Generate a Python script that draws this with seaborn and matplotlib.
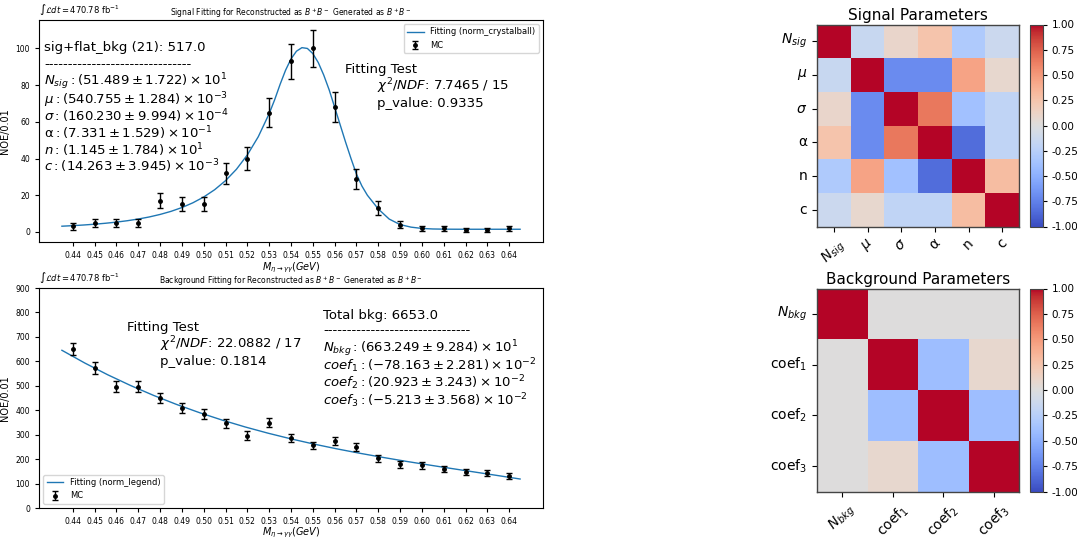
import numpy as np
import pandas as pd
import matplotlib
matplotlib.use("Agg")
import matplotlib.pyplot as plt
import seaborn as sns

# ---------------- data ----------------
mass_bins = [0.44, 0.45, 0.46, 0.47, 0.48, 0.49, 0.50, 0.51, 0.52, 0.53, 0.54,
             0.55, 0.56, 0.57, 0.58, 0.59, 0.60, 0.61, 0.62, 0.63, 0.64]
sig_counts = [3, 5, 5, 5, 17, 15, 15, 32, 40, 65, 93, 100, 68, 29, 13, 4, 2, 2, 1, 1, 2]
bkg_counts = [650, 572, 497, 496, 450, 410, 385, 347, 296, 349, 287, 256, 275, 251,
              204, 178, 174, 161, 146, 142, 132]

sig_fit_x = [0.435, 0.440, 0.445, 0.450, 0.455, 0.460, 0.465, 0.470, 0.475, 0.480,
             0.485, 0.490, 0.495, 0.500, 0.505, 0.510, 0.515, 0.520, 0.525, 0.530,
             0.5325, 0.535, 0.5375, 0.540, 0.5425, 0.545, 0.5475, 0.550, 0.5525,
             0.555, 0.5575, 0.560, 0.5625, 0.565, 0.5675, 0.570, 0.5725, 0.575,
             0.580, 0.585, 0.590, 0.595, 0.600, 0.605, 0.610, 0.615, 0.620, 0.625,
             0.630, 0.635, 0.640, 0.645]
sig_fit_y = [3.11, 3.41, 3.77, 4.20, 4.72, 5.34, 6.10, 7.02, 8.14, 9.52,
             11.20, 13.28, 15.85, 19.03, 22.99, 27.94, 34.15, 41.98, 51.88, 64.47,
             72.0, 80.41, 88.1, 94.27, 98.5, 100.43, 100.0, 97.21, 92.3,
             85.5, 77.4, 68.0, 58.5, 49.0, 40.0, 31.5, 25.0, 20.0,
             12.5, 7.0, 4.0, 2.6, 1.9, 1.6, 1.5, 1.46, 1.45, 1.45,
             1.45, 1.45, 1.45, 1.45]

bkg_fit_x = [0.435, 0.4455, 0.456, 0.4665, 0.477, 0.4875, 0.498, 0.5085, 0.519, 0.5295,
             0.540, 0.5505, 0.561, 0.5715, 0.582, 0.5925, 0.603, 0.6135, 0.624, 0.6345, 0.645]
bkg_fit_y = [645.2, 593.0, 545.0, 501.0, 460.7, 423.8, 390.2, 359.5, 331.5, 306.0,
             282.8, 261.5, 242.0, 224.0, 207.2, 191.3, 176.3, 161.7, 147.4, 133.1, 118.6]

sig_params = [r"$N_{sig}$", r"$\mu$", r"$\sigma$", "α", "n", "c"]
sig_corr = [[1.00, -0.15, 0.10, 0.25, -0.30, -0.13],
            [-0.15, 1.00, -0.70, -0.70, 0.45, 0.08],
            [0.10, -0.70, 1.00, 0.65, -0.38, -0.20],
            [0.25, -0.70, 0.65, 1.00, -0.85, -0.20],
            [-0.30, 0.45, -0.38, -0.85, 1.00, 0.30],
            [-0.13, 0.08, -0.20, -0.20, 0.30, 1.00]]

bkg_params = [r"$N_{bkg}$", r"coef$_1$", r"coef$_2$", r"coef$_3$"]
bkg_corr = [[1.00, 0.00, 0.00, 0.00],
            [0.00, 1.00, -0.40, 0.08],
            [0.00, -0.40, 1.00, -0.40],
            [0.00, 0.08, -0.40, 1.00]]

cbar_ticks = [-1.0, -0.75, -0.5, -0.25, 0.0, 0.25, 0.5, 0.75, 1.0]

sig_lines = ["sig+flat_bkg (21): 517.0",
             "-" * 31,
             r"$N_{sig}:(51.489\pm1.722)\times10^{1}$",
             r"$\mu:(540.755\pm1.284)\times10^{-3}$",
             r"$\sigma:(160.230\pm9.994)\times10^{-4}$",
             r"α$:(7.331\pm1.529)\times10^{-1}$",
             r"$n:(1.145\pm1.784)\times10^{1}$",
             r"$c:(14.263\pm3.945)\times10^{-3}$"]
bkg_lines = ["Total bkg: 6653.0",
             "-" * 31,
             r"$N_{bkg}:(663.249\pm9.284)\times10^{1}$",
             r"$coef_1:(-78.163\pm2.281)\times10^{-2}$",
             r"$coef_2:(20.923\pm3.243)\times10^{-2}$",
             r"$coef_3:(-5.213\pm3.568)\times10^{-2}$"]
sig_test = ["Fitting Test", r"$\chi^2/NDF$: 7.7465 / 15", "p_value: 0.9335"]
bkg_test = ["Fitting Test", r"$\chi^2/NDF$: 22.0882 / 17", "p_value: 0.1814"]

lumi = r"$\int\mathcal{L}dt = 470.78$ fb$^{-1}$"
title_sig = r"Signal Fitting for Reconstructed as $B^+B^-$ Generated as $B^+B^-$"
title_bkg = r"Background Fitting for Reconstructed as $B^+B^-$ Generated as $B^+B^-$"
xlab = r"$M_{\eta\rightarrow\gamma\gamma}(GeV)$"

# ---------------- figure ----------------
W, H = 1077, 539
fig = plt.figure(figsize=(W / 100, H / 100), dpi=100)

def fig_rect(l, t, r, b):
    return [l / W, (H - b) / H, (r - l) / W, (b - t) / H]

ax1 = fig.add_axes(fig_rect(39, 20, 543, 242))
ax2 = fig.add_axes(fig_rect(39, 288, 543, 508))
hm1 = fig.add_axes(fig_rect(817, 24.5, 1019, 226.5))
cb1 = fig.add_axes(fig_rect(1029.5, 24.5, 1042.5, 226.5))
hm2 = fig.add_axes(fig_rect(817, 288.5, 1019, 491.5))
cb2 = fig.add_axes(fig_rect(1029.5, 288.5, 1042.5, 491.5))

blue = "#1f77b4"

def fit_panel(ax, fx, fy, counts, fit_label, title, loc, lab_y):
    sns.lineplot(x=fx, y=fy, ax=ax, color=blue, lw=1, label=fit_label)
    ax.errorbar(mass_bins, counts, yerr=np.sqrt(counts), fmt="o", color="k",
                ms=2.5, capsize=2, elinewidth=1, capthick=1, label="MC")
    ax.set_xticks(mass_bins)
    ax.set_xticklabels([f"{v:.2f}" for v in mass_bins])
    ax.tick_params(labelsize=5.5, length=3)
    ax.set_xlabel(xlab, fontsize=7)
    ax.xaxis.set_label_coords(0.5, lab_y)
    ax.set_ylabel("NOE/0.01", fontsize=7)
    ax.set_title(title, fontsize=5.5, pad=2)
    ax.text(0.0, 1.015, lumi, transform=ax.transAxes, fontsize=6, ha="left", va="bottom")
    ax.legend(loc=loc, fontsize=6, framealpha=0.8)

fit_panel(ax1, sig_fit_x, sig_fit_y, sig_counts, "Fitting (norm_crystalball)", title_sig,
          "upper right", -0.085)
fit_panel(ax2, bkg_fit_x, bkg_fit_y, bkg_counts, "Fitting (norm_legend)", title_bkg,
          "lower left", -0.08)
ax2.set_ylim(0, 900)
ax2.set_yticks(range(0, 901, 100))

FS = 9.5

def put_lines(ax, lines, px, pys, top, bottom):
    for s, py in zip(lines, pys):
        ax.text((px - 39) / 504, (bottom - py) / (bottom - top), s, transform=ax.transAxes,
                fontsize=FS, ha="left", va="center")

put_lines(ax1, sig_lines, 44, [48, 65, 82, 100, 116, 133, 150, 166], 20, 242)
put_lines(ax1, sig_test[:1], 345, [69], 20, 242)
put_lines(ax1, sig_test[1:], 377, [86, 103], 20, 242)
put_lines(ax2, bkg_test[:1], 127, [327], 288, 508)
put_lines(ax2, bkg_test[1:], 160, [344, 361], 288, 508)
put_lines(ax2, bkg_lines, 323, [316, 331, 349, 366, 383, 401], 288, 508)

def corr_panel(ax, cax, mat, labels, title):
    df = pd.DataFrame(mat, index=labels, columns=labels)
    sns.heatmap(df, ax=ax, cbar_ax=cax, cmap="coolwarm", vmin=-1, vmax=1,
                cbar_kws={"ticks": cbar_ticks, "format": "%.2f"})
    for sp in ax.spines.values():
        sp.set_visible(True)
        sp.set_color("#444444")
        sp.set_linewidth(1)
    ax.set_title(title, fontsize=11, pad=3)
    ax.tick_params(labelsize=10, length=3.5)
    ax.set_xticklabels(labels, rotation=45)
    ax.set_yticklabels(labels, rotation=0)
    cbar = ax.collections[0].colorbar
    cbar.outline.set_linewidth(0.8)
    cbar.outline.set_edgecolor("#444444")
    cax.tick_params(labelsize=7.5, length=3)

corr_panel(hm1, cb1, sig_corr, sig_params, "Signal Parameters")
corr_panel(hm2, cb2, bkg_corr, bkg_params, "Background Parameters")

fig.savefig("out.png", dpi=100)
